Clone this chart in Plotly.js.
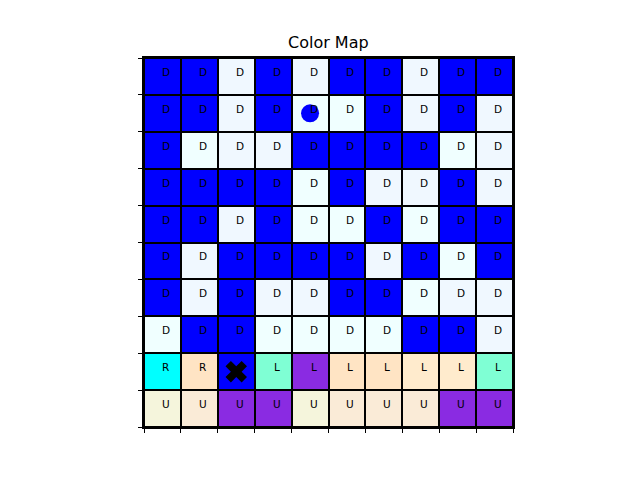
<!DOCTYPE html>
<html>
<head>
<meta charset="utf-8">
<script src="https://cdn.plot.ly/plotly-3.0.1.min.js"></script>
<style>html,body{margin:0;padding:0;background:#fff;}#chart{width:640px;height:480px;}</style>
</head>
<body>
<div id="chart"></div>
<script>
// Color names used in the map (index = code)
const colorNames = ['blue','aliceblue','azure','cyan','bisque','aquamarine','blueviolet','blanchedalmond','beige','antiquewhite'];
// Cell colour codes, row 0 at top
const cellCodes = [
  [0,0,1,0,1,0,0,1,0,0],
  [0,0,1,0,2,2,0,1,0,1],
  [0,2,1,1,0,0,0,0,2,1],
  [0,0,0,0,2,0,1,1,0,1],
  [0,0,1,0,2,2,0,2,0,0],
  [0,1,0,0,0,0,1,0,2,0],
  [0,1,0,1,1,0,0,2,1,1],
  [2,0,0,2,2,2,2,0,0,1],
  [3,4,0,5,6,4,4,7,7,5],
  [8,9,6,6,8,9,9,9,6,6]
];
// Cell labels
const cellLabels = [
  ['D','D','D','D','D','D','D','D','D','D'],
  ['D','D','D','D','D','D','D','D','D','D'],
  ['D','D','D','D','D','D','D','D','D','D'],
  ['D','D','D','D','D','D','D','D','D','D'],
  ['D','D','D','D','D','D','D','D','D','D'],
  ['D','D','D','D','D','D','D','D','D','D'],
  ['D','D','D','D','D','D','D','D','D','D'],
  ['D','D','D','D','D','D','D','D','D','D'],
  ['R','R','','L','L','L','L','L','L','L'],
  ['U','U','U','U','U','U','U','U','U','U']
];
const colCenters = [0.5,1.5,2.5,3.5,4.5,5.5,6.5,7.5,8.5,9.5];
const rowCenters = [0.5,1.5,2.5,3.5,4.5,5.5,6.5,7.5,8.5,9.5];
const gridTicks = [0,1,2,3,4,5,6,7,8,9,10];
// Markers
const startPos = {col: 4.5, row: 1.5};
const goalPos = {col: 2.5, row: 8.5};

const n = colorNames.length;
const colorscale = [];
colorNames.forEach((c, i) => {
  colorscale.push([i / n, c]);
  colorscale.push([(i + 1) / n, c]);
});

const heat = {
  type: 'heatmap',
  x: colCenters,
  y: rowCenters,
  z: cellCodes,
  zmin: -0.5, zmax: n - 0.5,
  colorscale: colorscale,
  showscale: false,
  xgap: 2, ygap: 2,
  hoverinfo: 'skip'
};

const annotations = [];
cellLabels.forEach((row, r) => {
  row.forEach((t, c) => {
    if (!t) return;
    annotations.push({
      x: colCenters[c], y: rowCenters[r], xref: 'x', yref: 'y',
      text: t, showarrow: false, xshift: 3.5, yshift: 4.5,
      font: {family: 'DejaVu Sans', size: 10.5, color: '#000'}
    });
  });
});

const startTrace = {
  type: 'scatter', mode: 'markers',
  x: [startPos.col], y: [startPos.row],
  marker: {symbol: 'circle', size: 18, color: 'blue', line: {width: 0}},
  hoverinfo: 'skip'
};
const goalTrace = {
  type: 'scatter', mode: 'markers',
  x: [goalPos.col], y: [goalPos.row],
  marker: {symbol: 'x', size: 19, color: 'black', line: {width: 0}},
  hoverinfo: 'skip'
};

const layout = {
  width: 640, height: 480,
  margin: {l: 144, r: 127, t: 58, b: 53},
  paper_bgcolor: '#fff',
  plot_bgcolor: '#000',
  showlegend: false,
  title: {
    text: 'Color Map',
    font: {family: 'DejaVu Sans', size: 16, color: '#000'},
    x: 0.513, xanchor: 'center', yref: 'container', y: 0.899, yanchor: 'bottom'
  },
  xaxis: {
    range: [0, 10], tickvals: gridTicks, showticklabels: false,
    ticks: 'outside', ticklen: 4, tickwidth: 1, tickcolor: '#000',
    showgrid: false, zeroline: false,
    showline: true, linecolor: '#000', linewidth: 2, mirror: true
  },
  yaxis: {
    range: [10, 0], tickvals: gridTicks, showticklabels: false,
    ticks: 'outside', ticklen: 4, tickwidth: 1, tickcolor: '#000',
    showgrid: false, zeroline: false,
    showline: true, linecolor: '#000', linewidth: 2, mirror: true
  },
  annotations: annotations
};

Plotly.newPlot('chart', [heat, startTrace, goalTrace], layout, {staticPlot: true});
</script>
</body>
</html>
